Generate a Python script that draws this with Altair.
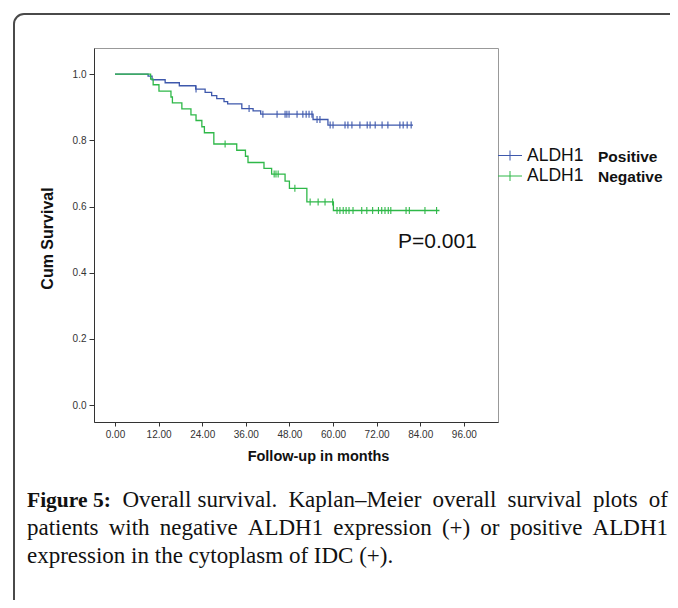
import altair as alt
import pandas as pd

# ---------------- data ----------------
groups = ["ALDH1 Positive", "ALDH1 Negative"]
colors = ["#3E58AC", "#2EB848"]

pos_time = [0, 9.1, 10.2, 13.8, 17.7, 22.2, 24.8, 26.6, 28.0, 30.0, 31.0, 34.9, 38.0, 40.1, 54.5, 58.6, 82.0]
pos_surv = [1.0, 0.994, 0.983, 0.974, 0.965, 0.955, 0.945, 0.935, 0.926, 0.917, 0.910, 0.896, 0.889, 0.879, 0.863, 0.846, 0.846]
pos_cens = [22.3, 36.9, 40.7, 44.6, 46.8, 47.3, 47.9, 50.1, 51.7, 52.6, 53.4, 54.2, 55.6, 56.4,
            59.2, 60.0, 63.3, 64.1, 65.2, 67.4, 69.4, 70.2, 71.6, 73.5, 75.1, 78.4, 79.3, 80.4, 81.5]

neg_time = [0, 9.8, 10.5, 12.1, 15.4, 15.8, 18.4, 20.9, 22.3, 23.9, 24.6, 27.2, 33.5, 35.9, 36.6, 41.0,
            43.1, 46.8, 48.0, 52.8, 60.1, 89.3]
neg_surv = [1.0, 0.985, 0.968, 0.949, 0.931, 0.913, 0.895, 0.877, 0.860, 0.841, 0.823, 0.789, 0.770, 0.752,
            0.733, 0.715, 0.698, 0.677, 0.655, 0.614, 0.588, 0.588]
neg_cens = [30.3, 43.8, 44.3, 44.9, 49.5, 53.7, 55.9, 57.8, 59.9, 61.1, 61.9, 62.8, 63.6, 64.4, 65.5,
            67.9, 69.3, 70.9, 72.5, 73.4, 74.3, 75.2, 75.9, 80.1, 81.0, 85.3, 88.5]

x_ticks = [0, 12, 24, 36, 48, 60, 72, 84, 96]
y_ticks = [0.0, 0.2, 0.4, 0.6, 0.8, 1.0]

x_title = "Follow-up in months"
y_title = "Cum Survival"
p_text = "P=0.001"
legend_main = ["ALDH1", "ALDH1"]
legend_sub = ["Positive", "Negative"]
caption_bold = "Figure 5:"
caption_lines = [
    "Overall survival. Kaplan\u2013Meier overall survival plots of",
    "patients with negative ALDH1 expression (+) or positive ALDH1",
    "expression in the cytoplasm of IDC (+).",
]

# ---------------- tables ----------------
def step_at(times, survs, t):
    v = survs[0]
    for tt, ss in zip(times, survs):
        if tt <= t:
            v = ss
    return v

curve_rows = []
for g, ts, ss in [(groups[0], pos_time, pos_surv), (groups[1], neg_time, neg_surv)]:
    for t, s in zip(ts, ss):
        curve_rows.append({"group": g, "month": t, "surv": s})
curve_df = pd.DataFrame(curve_rows)

cens_rows = []
for g, cs, ts, ss in [(groups[0], pos_cens, pos_time, pos_surv), (groups[1], neg_cens, neg_time, neg_surv)]:
    for c in cs:
        cens_rows.append({"group": g, "month": c, "surv": step_at(ts, ss, c)})
cens_df = pd.DataFrame(cens_rows)

one = pd.DataFrame({"k": [0]})

W, H = 404, 374
SANS = "Liberation Sans"
SERIF = "Liberation Serif"

xscale = alt.Scale(domain=[-5.78, 105.4], nice=False, zero=False)
yscale = alt.Scale(domain=[-0.051, 1.079], nice=False, zero=False)
cscale = alt.Scale(domain=groups, range=colors)

xaxis = alt.Axis(values=x_ticks, format=".2f", title=x_title, grid=False,
                 labelFont=SANS, labelFontSize=10, labelColor="#333", labelPadding=3,
                 tickSize=4, tickColor="#333", domainColor="#333",
                 titleFont=SANS, titleFontSize=14.5, titleFontWeight="bold", titleColor="#111",
                 titleX=224, titleY=34, titleBaseline="middle", titleAlign="center")
yaxis = alt.Axis(values=y_ticks, format=".1f", title=y_title, grid=False,
                 labelFont=SANS, labelFontSize=10, labelColor="#333", labelPadding=3,
                 tickSize=5, tickColor="#333", domainColor="#333",
                 titleFont=SANS, titleFontSize=16, titleFontWeight="bold", titleColor="#111",
                 titleX=-47, titleY=190, titleAngle=270, titleBaseline="middle", titleAlign="center")

lines = alt.Chart(curve_df).mark_line(interpolate="step-after", strokeWidth=1.3).encode(
    x=alt.X("month:Q", scale=xscale, axis=xaxis),
    y=alt.Y("surv:Q", scale=yscale, axis=yaxis),
    color=alt.Color("group:N", scale=cscale, legend=None),
)

cens = alt.Chart(cens_df).mark_point(shape="M0,-1L0,1", size=49, strokeWidth=1.1, filled=False, opacity=1).encode(
    x=alt.X("month:Q", scale=xscale),
    y=alt.Y("surv:Q", scale=yscale),
    color=alt.Color("group:N", scale=cscale, legend=None),
)

layers = []

# outer frame of the figure (top and left edges with a rounded corner)
FRAME_C = "#4a4a4a"
fx, fy, fr = -80, -34, 10
layers.append(alt.Chart(one).mark_rule(stroke=FRAME_C, strokeWidth=2).encode(
    x=alt.value(fx + fr), x2=alt.value(3000), y=alt.value(fy)))
layers.append(alt.Chart(one).mark_rule(stroke=FRAME_C, strokeWidth=2).encode(
    x=alt.value(fx), y=alt.value(fy + fr), y2=alt.value(3000)))
layers.append(alt.Chart(one).mark_arc(color=FRAME_C, radius=fr + 1, radius2=fr - 1,
                                      theta=4.7124, theta2=6.2832).encode(
    x=alt.value(fx + fr), y=alt.value(fy + fr)))

layers += [lines, cens]

# legend
leg_x0 = 404
for i in range(2):
    ly = 107.5 + i * 20.5
    layers.append(alt.Chart(one).mark_point(shape="M-2.4,0L2.4,0M0,-1L0,1", size=100, strokeWidth=1,
                                            filled=False, opacity=1, color=colors[i]).encode(
        x=alt.value(leg_x0 + 12), y=alt.value(ly)))
    layers.append(alt.Chart(one).mark_text(text=legend_main[i], font=SANS, fontSize=17.5, align="left",
                                           baseline="middle", color="#111").encode(
        x=alt.value(leg_x0 + 29), y=alt.value(ly)))
    layers.append(alt.Chart(one).mark_text(text=legend_sub[i], font=SANS, fontSize=15.5, fontWeight="bold",
                                           align="left", baseline="middle", color="#111").encode(
        x=alt.value(leg_x0 + 100), y=alt.value(ly + 1)))

# p-value
layers.append(alt.Chart(one).mark_text(text=p_text, font=SANS, fontSize=21, align="left",
                                       baseline="middle", color="#111").encode(
    x=alt.value(304), y=alt.value(194)))

# caption (justified lines, using Times-compatible advance widths)
TIMES = {" ": 250, "(": 333, ")": 333, "+": 564, ",": 250, "-": 333, ".": 250, ":": 278,
         "\u2013": 500, "A": 722, "C": 667, "D": 722, "H": 722, "I": 333, "K": 722, "L": 611,
         "M": 889, "F": 556, "a": 444, "b": 500, "c": 444, "d": 500, "e": 444, "f": 333, "g": 500,
         "h": 500, "i": 278, "j": 278, "k": 500, "l": 278, "m": 778, "n": 500, "o": 500, "p": 500,
         "q": 500, "r": 333, "s": 389, "t": 278, "u": 500, "v": 500, "w": 722, "x": 500, "y": 500,
         "z": 444}
TIMES_BOLD = {"F": 611, "i": 278, "g": 500, "u": 556, "r": 444, "e": 444, " ": 250, ":": 333}


def text_w(s, size, table):
    return sum(table.get(ch, 500) for ch in s) * size / 1000.0


CAP_SIZE = 23
BOLD_SIZE = 21.5
cap_left = -67
cap_right = 574
cap_y0 = 459
cap_dy = 28


def word_layer(word, x, y, bold=False, align="left"):
    return alt.Chart(one).mark_text(text=word, font=SERIF, fontSize=BOLD_SIZE if bold else CAP_SIZE,
                                    fontWeight="bold" if bold else "normal", align=align,
                                    baseline="alphabetic", color="#111").encode(
        x=alt.value(x), y=alt.value(y))


for i, line in enumerate(caption_lines):
    y = cap_y0 + i * cap_dy
    words = line.split(" ")
    items = [(w, False) for w in words]
    if i == 0:
        items = [(caption_bold, True)] + items
    if i == len(caption_lines) - 1:
        layers.append(word_layer(line, cap_left, y))
        continue
    widths = [text_w(w, BOLD_SIZE, TIMES_BOLD) if b else text_w(w, CAP_SIZE, TIMES) for w, b in items]
    gap = (cap_right - cap_left - sum(widths)) / (len(items) - 1)
    x = cap_left
    for j, ((w, b), wd) in enumerate(zip(items, widths)):
        if j == len(items) - 1:
            layers.append(word_layer(w, cap_right, y, b, align="right"))
        else:
            layers.append(word_layer(w, x, y, b))
        x += wd + gap

chart = alt.layer(*layers).properties(
    width=W, height=H,
    autosize=alt.AutoSizeParams(type="none"),
    padding={"left": 86, "top": 40, "right": 172, "bottom": 178},
    background="white",
).configure_view(stroke="#999", strokeWidth=1)

chart.save("out.html", embed_options={"renderer": "svg", "actions": False})
